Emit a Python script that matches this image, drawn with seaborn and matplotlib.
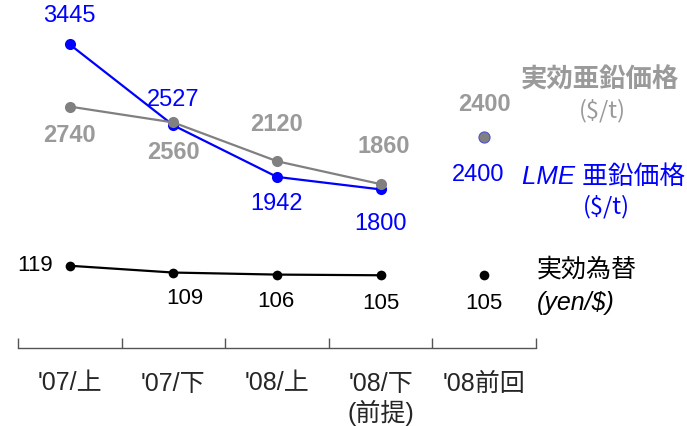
import pandas as pd
import matplotlib
matplotlib.use("Agg")
import matplotlib.pyplot as plt
import seaborn as sns

# data
periods = ["'07/上", "'07/下", "'08/上", "'08/下\n(前提)", "'08前回"]
lme_price = [3445, 2527, 1942, 1800, 2400]
eff_price = [2740, 2560, 2120, 1860, 2400]
fx_rate = [119, 109, 106, 105, 105]

sns.set_style("white")
plt.rcParams["font.family"] = ["Liberation Sans", "Noto Sans CJK JP"]

BLUE = "#0000FF"
GRAY = "#808080"
GRAY_TXT = "#9A9A9A"

df = pd.DataFrame({"x": range(len(periods)), "lme": lme_price,
                   "eff": eff_price, "fx": fx_rate})
hist = df.iloc[:4]
prev = df.iloc[4:]

fig = plt.figure(figsize=(6.87, 4.26), dpi=100)
ax = fig.add_axes([18 / 687, 1 - 348 / 426, 518 / 687, 348 / 426])
ax2 = ax.twinx()

# price lines
sns.lineplot(data=hist, x="x", y="lme", ax=ax, color=BLUE, lw=1.6,
             marker="o", markersize=8, markeredgewidth=0, zorder=3)
sns.lineplot(data=hist, x="x", y="eff", ax=ax, color=GRAY, lw=1.6,
             marker="o", markersize=8, markeredgewidth=0, zorder=4)
ax.plot(prev["x"], prev["eff"], "o", color=GRAY, markersize=8,
        markeredgecolor="#5050D0", markeredgewidth=0.8, zorder=5)

# exchange rate line
sns.lineplot(data=hist, x="x", y="fx", ax=ax2, color="black", lw=1.6,
             marker="o", markersize=7, markeredgewidth=0)
ax2.plot(prev["x"], prev["fx"], "o", color="black", markersize=7,
         markeredgewidth=0)

ax.set_xlim(-0.5, 4.5)
ax.set_ylim(0, 3950)
ax2.set_ylim(-2, 510)

# value labels (pixel offsets)
lme_off = [(0, 28), (0, 25), (0, -27), (0, -35), (-6, -38)]
eff_off = [(0, -29), (0, -30), (0, 37), (3, 38), (0, 32)]
fx_off = [(-35, 0), (11, -26), (-1, -27), (0, -28), (0, -28)]
for i in range(len(periods)):
    ax.annotate(str(lme_price[i]), (i, lme_price[i]), xytext=lme_off[i],
                textcoords="offset pixels", ha="center", va="center",
                color=BLUE, fontsize=17)
    ax.annotate(str(eff_price[i]), (i, eff_price[i]), xytext=eff_off[i],
                textcoords="offset pixels", ha="center", va="center",
                color=GRAY_TXT, fontsize=17, fontweight="bold")
    ax2.annotate(str(fx_rate[i]), (i, fx_rate[i]), xytext=fx_off[i],
                 textcoords="offset pixels", ha="center", va="center",
                 color="black", fontsize=16)

# axis styling
for a in (ax, ax2):
    for s in ["top", "left", "right"]:
        a.spines[s].set_visible(False)
    a.set_ylabel("")
    a.set_yticks([])
ax2.spines["bottom"].set_visible(False)
ax.spines["bottom"].set_color("#555555")
ax.spines["bottom"].set_linewidth(1)
ax.set_xlabel("")
ax.set_xticks(range(len(periods)))
ax.set_xticklabels(periods, fontsize=18)
ax.set_xticks([i - 0.5 for i in range(len(periods) + 1)], minor=True)
ax.tick_params(axis="x", which="major", length=0, pad=17)
ax.tick_params(axis="x", which="minor", bottom=True, length=7,
               direction="in", color="#555555", width=1)

# series names
def ftxt(x, y, s, **kw):
    fig.text(x / 687, 1 - y / 426, s, va="center", **kw)

ftxt(600, 80, "実効亜鉛価格", ha="center", color=GRAY_TXT, fontsize=19,
     fontweight="bold", style="italic")
ftxt(602, 111, "($/t)", ha="center", color=GRAY_TXT, fontsize=17,
     family=["Noto Sans CJK JP"])
ftxt(604, 177, "LME 亜鉛価格", ha="center", color=BLUE, fontsize=18.5,
     style="italic")
ftxt(606, 207, "($/t)", ha="center", color=BLUE, fontsize=17,
     family=["Noto Sans CJK JP"])
ftxt(537, 270, "実効為替", ha="left", color="black", fontsize=18,
     style="italic")
ftxt(537, 303, "(yen/$)", ha="left", color="black", fontsize=18,
     style="italic")

fig.savefig("out.png", dpi=100)
